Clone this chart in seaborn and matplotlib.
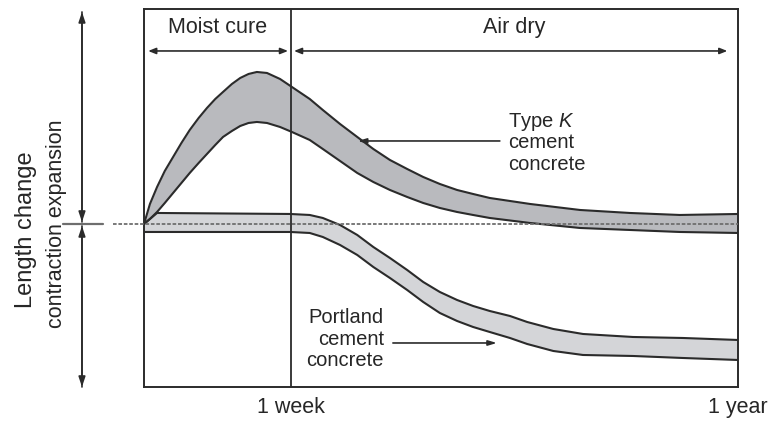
import seaborn as sns
import numpy as np
from matplotlib import pyplot as plt

# time axis in relative units (0 = casting, 24.75 = 1 week, 100 = 1 year)
week_pos = 24.75
year_pos = 100
tick_labels = ['1 week', '1 year']

# Type K cement concrete band (length change, arbitrary units)
k_x = [0.0, 1.0, 2.2, 3.5, 4.9, 6.3, 7.7, 9.2, 10.6, 12.0, 13.3, 14.8, 16.2, 17.6, 19.0, 20.7,
       22.9, 24.9, 27.9, 30.1, 33.0, 35.9, 38.6, 41.4, 44.3, 47.0, 49.8, 52.7, 55.4, 58.2,
       65.0, 73.4, 81.8, 90.2, 100.0]
k_upper = [0.0, 2.0, 3.7, 5.3, 6.7, 8.1, 9.4, 10.6, 11.6, 12.5, 13.2, 14.0, 14.6, 15.0, 15.2, 15.1,
           14.5, 13.7, 12.5, 11.4, 10.0, 8.7, 7.5, 6.4, 5.5, 4.7, 4.0, 3.4, 3.0, 2.6,
           2.0, 1.4, 1.1, 0.9, 1.0]
k_lower = [0.0, 0.5, 1.2, 2.1, 3.1, 4.1, 5.1, 6.1, 7.0, 7.9, 8.7, 9.3, 9.8, 10.1, 10.2, 10.1,
           9.7, 9.2, 8.4, 7.5, 6.3, 5.1, 4.2, 3.4, 2.7, 2.1, 1.6, 1.2, 0.9, 0.6,
           0.1, -0.4, -0.6, -0.8, -0.9]

# Portland cement concrete band
p_x = [0.0, 2.2, 24.6, 27.9, 30.1, 33.0, 35.9, 38.6, 41.4, 44.3, 47.0, 49.8, 52.7,
       55.4, 58.2, 61.6, 64.5, 68.9, 73.9, 82.3, 90.7, 100.0]
p_upper = [0.0, 1.1, 1.0, 0.9, 0.6, -0.1, -1.1, -2.3, -3.4, -4.6, -5.8, -6.8, -7.6,
           -8.2, -8.7, -9.2, -9.8, -10.5, -11.0, -11.3, -11.4, -11.6]
p_lower = [-0.8, -0.8, -0.8, -0.9, -1.3, -2.1, -3.1, -4.3, -5.4, -6.6, -7.8, -8.9, -9.7,
           -10.3, -10.8, -11.4, -12.0, -12.7, -13.1, -13.2, -13.4, -13.6]

sns.set_style('white')
plt.rcParams['font.family'] = ['Liberation Sans', 'DejaVu Sans']
plt.rcParams['mathtext.fontset'] = 'custom'
plt.rcParams['mathtext.it'] = 'Liberation Sans:italic'
plt.rcParams['mathtext.rm'] = 'Liberation Sans'

ink = '#2b2b2b'
txt = '#262626'

fig = plt.figure(figsize=(7.75, 4.21), dpi=100)
ax = fig.add_axes([0.1858, 0.0808, 0.7665, 0.8979])

# bands
ax.fill_between(p_x, p_lower, p_upper, color='#d4d5d8', lw=0, zorder=1)
ax.fill_between(k_x, k_lower, k_upper, color='#b9babe', lw=0, zorder=2)
for xs, ys, z in [(p_x, p_upper, 3), (p_x, p_lower, 3), (k_x, k_upper, 4), (k_x, k_lower, 4)]:
    sns.lineplot(x=xs, y=ys, color=ink, lw=1.5, estimator=None, ax=ax, zorder=z)

ax.set_xlim(0, year_pos)
ax.set_ylim(-16.3, 21.5)

# zero line, dashed, extends left of the box
ax.plot([-5.2, year_pos], [0, 0], color='#6e6e6e', lw=1.3, ls=(0, (2, 1)),
        clip_on=False, zorder=5)

# 1 week divider
ax.axvline(week_pos, color=ink, lw=1.3, zorder=6)

# header
ax.text(week_pos / 2, 19.6, 'Moist cure', ha='center', va='center', fontsize=15.5, color=txt)
ax.text((week_pos + year_pos) / 2, 19.6, 'Air dry', ha='center', va='center', fontsize=15.5, color=txt)
head = dict(arrowstyle='<|-|>,head_length=0.45,head_width=0.18', color=ink, lw=1.2,
            shrinkA=0, shrinkB=0)
ax.annotate('', xy=(0.7, 17.3), xytext=(week_pos - 0.5, 17.3), arrowprops=head)
ax.annotate('', xy=(week_pos + 0.5, 17.3), xytext=(98.2, 17.3), arrowprops=head)

# band labels
ax.text(61.3, 10.2, 'Type $\\it{K}$', ha='left', va='center', fontsize=14.5, color=txt)
ax.text(61.3, 8.1, 'cement', ha='left', va='center', fontsize=14.5, color=txt)
ax.text(61.3, 5.9, 'concrete', ha='left', va='center', fontsize=14.5, color=txt)
pointer = dict(arrowstyle='-|>,head_length=0.5,head_width=0.15', color=ink, lw=1.2,
               shrinkA=0, shrinkB=0)
ax.annotate('', xy=(36.0, 8.3), xytext=(59.9, 8.3), arrowprops=pointer)

ax.text(40.4, -9.4, 'Portland', ha='right', va='center', fontsize=14.5, color=txt)
ax.text(40.4, -11.6, 'cement', ha='right', va='center', fontsize=14.5, color=txt)
ax.text(40.4, -13.7, 'concrete', ha='right', va='center', fontsize=14.5, color=txt)
ax.annotate('', xy=(59.4, -11.9), xytext=(41.9, -11.9), arrowprops=pointer)

# left side: expansion / contraction arrows
side = dict(arrowstyle='-|>,head_length=0.6,head_width=0.2', color=ink, lw=1.2,
            shrinkA=0, shrinkB=0)
ax.annotate('', xy=(-10.44, 21.2), xytext=(-10.44, 0.2), arrowprops=side, annotation_clip=False)
ax.annotate('', xy=(-10.44, 0.2), xytext=(-10.44, 21.2), arrowprops=side, annotation_clip=False)
ax.annotate('', xy=(-10.44, -16.3), xytext=(-10.44, -0.2), arrowprops=side, annotation_clip=False)
ax.annotate('', xy=(-10.44, -0.2), xytext=(-10.44, -16.3), arrowprops=side, annotation_clip=False)
ax.plot([-13.6, -6.9], [0, 0], color='#6e6e6e', lw=1.6, clip_on=False)

ax.text(-14.8, 0, 'contraction expansion', rotation=90, ha='center', va='center',
        fontsize=15.5, color=txt)
ax.text(-19.9, -0.6, 'Length change', rotation=90, ha='center', va='center',
        fontsize=17, color=txt)

# ticks
ax.set_xticks([week_pos, year_pos], tick_labels)
ax.set_yticks([])
ax.tick_params(axis='x', length=0, pad=7, labelsize=15.5, labelcolor=txt)
for s in ax.spines.values():
    s.set_visible(True)
    s.set_color(ink)
    s.set_linewidth(1.4)

fig.savefig('out.png', dpi=100)
